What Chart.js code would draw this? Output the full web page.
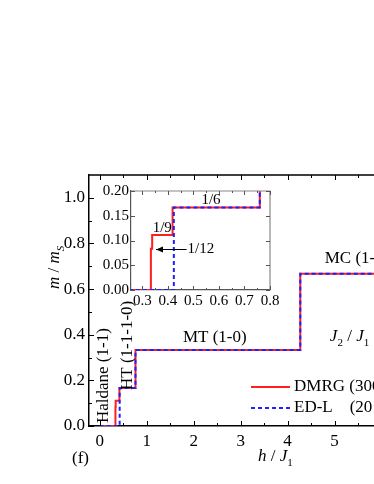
<!DOCTYPE html>
<html>
<head>
<meta charset="utf-8">
<script src="https://cdn.jsdelivr.net/npm/chart.js@4.4.1/dist/chart.umd.min.js"></script>
<style>
  html, body { margin: 0; padding: 0; background: #fff; overflow: hidden; }
  #wrap { position: relative; width: 374px; height: 484px; overflow: hidden; }
  #main { position: absolute; left: 0; top: 0; }
  #inset { position: absolute; left: 95px; top: 180px; }
</style>
</head>
<body>
<div id="wrap">
  <canvas id="main" width="440" height="484"></canvas>
  <canvas id="inset" width="190" height="130"></canvas>
</div>
<script>
// magnetisation steps (h/J1 where m jumps, m/ms after the jump)
const dmrgH = [0, 0.333, 0.338, 0.418, 0.76, 4.27, 6.6];
const dmrgM = [0, 0.0833, 0.1111, 0.1667, 0.3333, 0.6667, 0.6667];
const edH = [0, 0.423, 0.76, 4.27, 6.6];
const edM = [0, 0.1667, 0.3333, 0.6667, 0.6667];

const seriesLabels = ['DMRG (300 sites)', 'ED-L    (20 sites)'];

// tick values
const xMainTicks = [0, 1, 2, 3, 4, 5, 6];
const xMainMinor = [0.5, 1.5, 2.5, 3.5, 4.5, 5.5];
const yMainTicks = [0, 0.2, 0.4, 0.6, 0.8, 1.0];
const yMainMinor = [0.1, 0.3, 0.5, 0.7, 0.9];
const xInsetTicks = [0.3, 0.4, 0.5, 0.6, 0.7, 0.8];
const xInsetMinor = [0.35, 0.45, 0.55, 0.65, 0.75];
const yInsetTicks = [0, 0.05, 0.1, 0.15, 0.2];

const serif = "'Liberation Serif', 'Times New Roman', serif";
Chart.defaults.font.family = serif;
Chart.defaults.color = '#000';

function pts(xs, ys) {
    return xs.map((x, i) => ({ x: x, y: ys[i] }));
}

function makeDatasets() {
    return [
        { label: seriesLabels[0], data: pts(dmrgH, dmrgM), borderColor: '#ff1f1f', borderWidth: 2,
          stepped: 'before', pointRadius: 0, fill: false, order: 1 },
        { label: seriesLabels[1], data: pts(edH, edM), borderColor: '#1f1fff', borderWidth: 2,
          borderDash: [4, 3], stepped: 'before', pointRadius: 0, fill: false, order: 0 }
    ];
}

// text with italic parts and subscripts
function rich(ctx, parts, x, y, size) {
    let cx = x;
    parts.forEach(p => {
        const s = p.sub ? size * 0.65 : size;
        ctx.font = (p.it ? 'italic ' : '') + s + 'px ' + serif;
        ctx.fillText(p.t, cx, y + (p.sub ? size * 0.3 : 0));
        cx += ctx.measureText(p.t).width;
    });
}

// inward ticks on all four sides + top/right frame
const innerTicks = {
    id: 'innerTicks',
    afterDatasetsDraw(chart, args, o) {
        const { ctx, chartArea: a, scales: { x, y } } = chart;
        ctx.save();
        ctx.strokeStyle = o.color;
        ctx.lineWidth = o.width;
        ctx.beginPath();
        ctx.moveTo(a.left, a.top);
        ctx.lineTo(a.right, a.top);
        ctx.lineTo(a.right, a.bottom);
        ctx.stroke();
        ctx.lineWidth = 1;
        ctx.strokeStyle = o.tickColor;
        const xm = (vals, len) => vals.forEach(v => {
            const px = Math.round(x.getPixelForValue(v)) + 0.5;
            ctx.beginPath();
            ctx.moveTo(px, a.bottom); ctx.lineTo(px, a.bottom - len);
            ctx.moveTo(px, a.top); ctx.lineTo(px, a.top + len);
            ctx.stroke();
        });
        const ym = (vals, len) => vals.forEach(v => {
            const py = Math.round(y.getPixelForValue(v)) + 0.5;
            ctx.beginPath();
            ctx.moveTo(a.left, py); ctx.lineTo(a.left + len, py);
            ctx.moveTo(a.right, py); ctx.lineTo(a.right - len, py);
            ctx.stroke();
        });
        xm(o.xMajor, o.major); xm(o.xMinor, o.minor);
        ym(o.yMajor, o.major); ym(o.yMinor, o.minor);
        ctx.restore();
    }
};

const mainNotes = {
    id: 'mainNotes',
    afterDraw(chart) {
        const { ctx, chartArea: a, scales: { x, y } } = chart;
        ctx.save();
        ctx.fillStyle = '#000';
        ctx.textAlign = 'left';
        ctx.font = '17px ' + serif;

        // rotated phase labels
        ctx.textBaseline = 'middle';
        [['Haldane (1-1)', 0.085, 0.013], ['HT (1-1-1-0)', 0.585, 0.158]].forEach(t => {
            ctx.save();
            ctx.translate(x.getPixelForValue(t[1]), y.getPixelForValue(t[2]));
            ctx.rotate(-Math.PI / 2);
            ctx.fillText(t[0], 0, 0);
            ctx.restore();
        });
        ctx.fillText('MT (1-0)', x.getPixelForValue(1.77), y.getPixelForValue(0.386));
        ctx.fillText('MC (1-1-0)', x.getPixelForValue(4.79), y.getPixelForValue(0.733));

        ctx.textBaseline = 'alphabetic';
        rich(ctx, [{ t: 'J', it: true }, { t: '2', sub: true }, { t: ' / ' }, { t: 'J', it: true }, { t: '1', sub: true }],
            x.getPixelForValue(4.9), y.getPixelForValue(0.373), 17);

        // legend
        const lx = a.left + 162;
        chart.data.datasets.forEach((ds, i) => {
            const ly = a.top + 212 + i * 21;
            ctx.save();
            ctx.strokeStyle = ds.borderColor;
            ctx.lineWidth = 2;
            ctx.setLineDash(ds.borderDash || []);
            ctx.beginPath();
            ctx.moveTo(lx, ly); ctx.lineTo(lx + 39, ly);
            ctx.stroke();
            ctx.restore();
            ctx.font = '17px ' + serif;
            ctx.textBaseline = 'middle';
            ctx.fillText(ds.label, lx + 43, ly);
        });

        // axis titles
        ctx.textBaseline = 'alphabetic';
        rich(ctx, [{ t: 'h', it: true }, { t: ' / ' }, { t: 'J', it: true }, { t: '1', sub: true }], 258, 461, 17);
        ctx.font = '17px ' + serif;
        ctx.fillText('(f)', 72, 463);
        ctx.save();
        ctx.translate(59, 289);
        ctx.rotate(-Math.PI / 2);
        rich(ctx, [{ t: 'm', it: true }, { t: ' / ' }, { t: 'm', it: true }, { t: 'S', sub: true, it: true }], 0, 0, 17);
        ctx.restore();
        ctx.restore();
    }
};

const insetNotes = {
    id: 'insetNotes',
    beforeDraw(chart) {
        const { ctx, chartArea: a } = chart;
        ctx.save();
        ctx.fillStyle = '#fff';
        ctx.fillRect(a.left, a.top, a.right - a.left, a.bottom - a.top);
        ctx.restore();
    },
    afterDraw(chart) {
        const { ctx, scales: { x, y } } = chart;
        ctx.save();
        ctx.fillStyle = '#000';
        ctx.font = '15px ' + serif;
        ctx.textAlign = 'left';
        ctx.textBaseline = 'alphabetic';
        ctx.fillText('1/9', x.getPixelForValue(0.34), y.getPixelForValue(0.1111) - 3);
        ctx.fillText('1/6', x.getPixelForValue(0.531), y.getPixelForValue(0.1667) - 3);
        // arrow to the 1/12 step
        const ay = Math.round(y.getPixelForValue(0.0833)) + 0.5;
        const x0 = x.getPixelForValue(0.353), x1 = x.getPixelForValue(0.473);
        ctx.strokeStyle = '#000';
        ctx.lineWidth = 1;
        ctx.beginPath();
        ctx.moveTo(x1, ay); ctx.lineTo(x0, ay);
        ctx.stroke();
        ctx.beginPath();
        ctx.moveTo(x0, ay); ctx.lineTo(x0 + 7, ay - 3); ctx.lineTo(x0 + 7, ay + 3);
        ctx.closePath();
        ctx.fill();
        ctx.textBaseline = 'middle';
        ctx.fillText('1/12', x.getPixelForValue(0.477), ay);
        ctx.restore();
    }
};

function axis(min, max, ticks, fmt, size, pad, fit) {
    return {
        type: 'linear', min: min, max: max,
        afterBuildTicks: s => { s.ticks = ticks.map(v => ({ value: v })); },
        afterFit: fit,
        grid: { display: false, drawTicks: false },
        ticks: { padding: pad, color: '#000', font: { size: size }, callback: v => v.toFixed(fmt), maxRotation: 0, autoSkip: false }
    };
}

const mainX = axis(-0.23, 6.5, xMainTicks, 0, 17, 5, s => { s.height = 58; });
mainX.border = { color: '#000', width: 1.5 };
const mainY = axis(0, 1.1, yMainTicks, 1, 17, 4, s => { s.width = 89; });
mainY.border = { color: '#000', width: 1.5 };

new Chart(document.getElementById('main'), {
    type: 'line',
    data: { datasets: makeDatasets() },
    options: {
        responsive: false,
        animation: false,
        layout: { padding: { top: 175, right: 35, left: 0, bottom: 0 } },
        plugins: {
            legend: { display: false },
            tooltip: { enabled: false },
            innerTicks: { color: '#000', tickColor: '#000', width: 1.5, major: 5, minor: 3,
                xMajor: xMainTicks, xMinor: xMainMinor, yMajor: yMainTicks, yMinor: yMainMinor }
        },
        scales: { x: mainX, y: mainY }
    },
    plugins: [innerTicks, mainNotes]
});

const insX = axis(0.255, 0.8, xInsetTicks, 1, 15, 2, s => { s.height = 20; });
insX.border = { color: '#555', width: 1.2 };
const insY = axis(0, 0.2, yInsetTicks, 2, 15, 2, s => { s.width = 36; });
insY.border = { color: '#555', width: 1.2 };

new Chart(document.getElementById('inset'), {
    type: 'line',
    data: { datasets: makeDatasets() },
    options: {
        responsive: false,
        animation: false,
        layout: { padding: { top: 7, right: 15, left: 0, bottom: 0 } },
        plugins: {
            legend: { display: false },
            tooltip: { enabled: false },
            innerTicks: { color: '#888', tickColor: '#555', width: 1.2, major: 4, minor: 2,
                xMajor: xInsetTicks, xMinor: xInsetMinor, yMajor: yInsetTicks, yMinor: [] }
        },
        scales: { x: insX, y: insY }
    },
    plugins: [innerTicks, insetNotes]
});
</script>
</body>
</html>
